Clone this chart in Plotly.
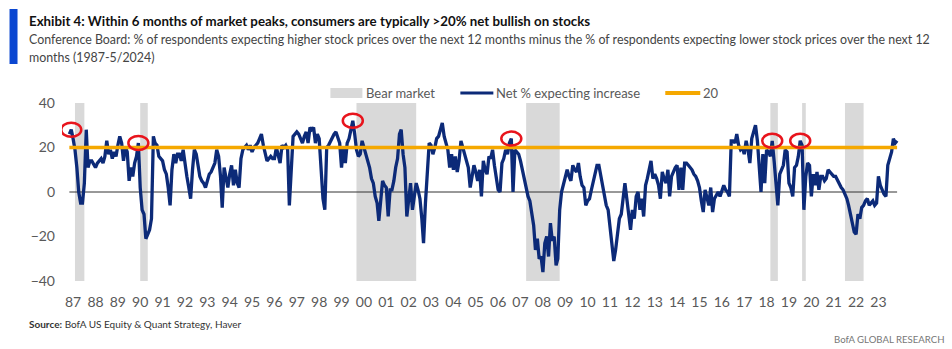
import pandas as pd
import plotly.graph_objects as go

# ---------------- data ----------------
# Net % expecting higher stock prices (monthly, May 1987 - May 2024)
net_pct = [
    26, 28, 24, 19, 11, 0, -5, -5,                        # 1987 (May-Dec)
    4, 28, 11, 14, 14, 12, 11, 13, 14, 15, 13, 16,        # 1988
    23, 17, 19, 15, 18, 16, 21, 25, 22, 14, 20, 18,       # 1989
    5, 11, 7, 13, 16, 22, 2, -8, -10, -21, -19, -17,      # 1990
    -12, 25, 22, 21, 16, 15, 14, 10, 8, 2, -6, 10,        # 1991
    17, 13, 17, 17, 14, 19, 12, 7, 2, -3, 10, 19,         # 1992
    17, 11, 7, 5, 4, 2, 5, 8, 9, 11, 13, 19,              # 1993
    16, 7, -7, 11, 6, 2, 8, 12, 3, 10, 4, 2,              # 1994
    15, 19, 20, 21, 19, 21, 18, 20, 21, 22, 24, 26,       # 1995
    21, 18, 14, 15, 16, 15, 15, 20, 17, 13, 21, 20,       # 1996
    21, 19, -6, 12, 25, 26, 27, 26, 24, 22, 25, 27,       # 1997
    22, 29, 28, 29, 22, 26, 24, 10, -3, -8, 20, 21,       # 1998
    23, 25, 26, 27, 24, 22, 11, 20, 13, 22, 24, 29,       # 1999
    32, 26, 19, 16, 17, 23, 20, 17, 15, 11, 6, 4,         # 2000
    -2, -5, -13, -3, 5, 3, 2, -11, 1, 1, 5, 11,           # 2001
    15, 26, 28, 17, 11, -11, -2, 4, -8, -2, 4, 1,         # 2002
    -3, -12, -23, -5, 9, 22, 21, 17, 20, 24, 25, 28,      # 2003
    31, 25, 22, 19, 11, 17, 10, 16, 9, 14, 23, 20,        # 2004
    17, 15, 11, 2, 8, 12, 9, 5, 10, -2, 14, 10,           # 2005
    8, 16, 15, 19, 12, 5, 1, 0, 13, 15, 19, 17,           # 2006
    22, 24, 0, 19, 18, 17, 14, 10, 6, 1, -2, -4,          # 2007
    -9, -15, -26, -21, -30, -29, -36, -23, -20, -29, -14, -22,  # 2008
    -20, -33, -30, -8, 0, 3, 7, 10, 7, 5, 12, 10,         # 2009
    9, 13, 7, 3, 2, -6, -4, -3, 1, 5, 8, 12,              # 2010
    12, 7, 3, -3, -6, -8, -15, -25, -31, -26, -20, -12,   # 2011
    -10, -2, 4, -3, -10, -17, -8, -12, -2, 0, -8, -3,     # 2012
    -11, 3, 6, 10, 14, 6, 8, 6, 3, -3, 9, 6,              # 2013
    4, 10, -2, 7, 9, 11, 12, 1, 11, 1, 13, 13,            # 2014
    12, 11, 10, 8, 7, 5, 2, -4, -9, 1, -3, -6,            # 2015
    2, -9, -3, -1, 0, -2, 0, 3, 1, 0, -2, 23,             # 2016
    23, 22, 26, 21, 19, 20, 17, 23, 19, 13, 24, 27,       # 2017
    30, 23, 11, 0, 17, 4, 19, 18, 16, 23, 14, 5,          # 2018
    -6, 8, 10, 12, 19, 18, 4, 2, -2, 11, 12, 16,          # 2019
    23, 21, -8, 7, 13, 12, -2, 8, 3, 9, 1, 7,             # 2020
    7, 5, 6, 10, 9, 8, 7, 7, 5, 4, 2, 1,                  # 2021
    -1, -3, -6, -10, -15, -18, -19, -10, -12, -7, -6, -4, # 2022
    -3, -6, -5, -4, -6, -5, 7, 3, 1, -1, -2, 12,          # 2023
    15, 18, 24, 22, 23,                                   # 2024 (Jan-May)
]
dates = pd.date_range("1987-05-01", periods=len(net_pct), freq="MS")
threshold = [20] * len(net_pct)

bear_markets = [
    ("1987-08-01", "1988-01-01"),
    ("1990-07-01", "1990-11-01"),
    ("2000-03-01", "2002-11-01"),
    ("2007-10-01", "2009-04-01"),
    ("2018-09-01", "2019-01-01"),
    ("2020-02-01", "2020-04-01"),
    ("2022-01-01", "2022-11-01"),
]
peak_dates = ["1987-06-01", "1990-06-01", "2000-01-01", "2007-02-01", "2018-10-01", "2020-01-01"]

tick_years = list(range(1987, 2024))
tick_vals = [f"{y}-07-01" for y in tick_years]
tick_text = [f"{y % 100:02d}" for y in tick_years]
y_ticks = [40, 20, 0, -20, -40]

# ---------------- styling ----------------
NAVY = "#0c2a78"
ORANGE = "#f5a800"
GREY = "#d9d9d9"
RED = "#e8141c"
TXT = "#595959"
FONT = "Lato, Open Sans, sans-serif"

L, T, W, H = 61.5, 103, 837.3, 178
def px(x):
    return (x - L) / W
def py(y):
    return (T + H - y) / H

fig = go.Figure()
fig.add_trace(go.Scatter(x=dates, y=net_pct, mode="lines",
                         line=dict(color=NAVY, width=3.3), showlegend=False,
                         name="Net % expecting increase"))
fig.add_trace(go.Scatter(x=dates, y=threshold, mode="lines",
                         line=dict(color=ORANGE, width=3.5), showlegend=False, name="20"))

series = dict(zip(dates.strftime("%Y-%m-%d"), net_pct))

shapes = []
for s, e in bear_markets:
    shapes.append(dict(type="rect", xref="x", yref="paper", x0=s, x1=e, y0=0, y1=1,
                       fillcolor=GREY, line=dict(width=0), layer="below"))
# zero line across the data span
shapes.append(dict(type="line", xref="x", yref="y", x0=dates[0], x1=dates[-1], y0=0, y1=0,
                   line=dict(color="#333333", width=1), layer="below"))
# red highlight ellipses
for d in peak_dates:
    shapes.append(dict(type="circle", xref="x", yref="y", xsizemode="pixel", ysizemode="pixel",
                       xanchor=d, yanchor=series[d], x0=-10, x1=10, y0=-7, y1=7,
                       line=dict(color=RED, width=2.5)))
# title bar
shapes.append(dict(type="rect", xref="paper", yref="paper", x0=px(9), x1=px(17), y0=py(64), y1=py(9),
                   fillcolor="#0b47d1", line=dict(width=0)))
# legend symbols
shapes.append(dict(type="rect", xref="paper", yref="paper", x0=px(330), x1=px(362), y0=py(98), y1=py(88),
                   fillcolor=GREY, line=dict(width=0)))
shapes.append(dict(type="line", xref="paper", yref="paper", x0=px(460), x1=px(493), y0=py(93), y1=py(93),
                   line=dict(color=NAVY, width=3)))
shapes.append(dict(type="line", xref="paper", yref="paper", x0=px(665), x1=px(700), y0=py(93), y1=py(93),
                   line=dict(color=ORANGE, width=4)))

def ann(text, x, y, size, color, xanchor="left"):
    return dict(text=text, x=px(x), y=py(y), xref="paper", yref="paper", showarrow=False,
                xanchor=xanchor, yanchor="middle", align="left",
                font=dict(size=size, color=color, family=FONT))

annotations = [
    ann("<b>Exhibit 4: Within 6 months of market peaks, consumers are typically &gt;20% net bullish on stocks</b>",
        26, 21, 13.3, "#111111"),
    ann("Conference Board: % of respondents expecting higher stock prices over the next 12 months minus the % of respondents expecting lower stock prices over the next 12",
        26, 40, 12.4, "#444444"),
    ann("months (1987-5/2024)", 26, 57, 12.4, "#444444"),
    ann("Bear market", 364, 93, 13, TXT),
    ann("Net % expecting increase", 494, 93, 13, TXT),
    ann("20", 701, 93, 13, TXT),
    ann("<b>Source:</b> BofA US Equity &amp; Quant Strategy, Haver", 26, 324, 10, "#333333"),
    ann("BofA GLOBAL RESEARCH", 946, 339, 9.6, "#777777", xanchor="right"),
]

fig.update_layout(
    width=952, height=349,
    margin=dict(l=L, r=952 - L - W, t=T, b=349 - T - H, pad=0),
    paper_bgcolor="white", plot_bgcolor="white",
    showlegend=False,
    shapes=shapes, annotations=annotations,
    xaxis=dict(type="date", range=["1987-01-01", "2024-06-01"],
               tickmode="array", tickvals=tick_vals, ticktext=tick_text,
               showgrid=False, zeroline=False, showline=False, ticks="",
               ticklabelstandoff=11,
               tickfont=dict(family=FONT, size=14, color=TXT)),
    yaxis=dict(range=[-40, 40], tickmode="array", tickvals=y_ticks,
               showgrid=False, zeroline=False, showline=False, ticks="",
               ticklabelstandoff=6,
               tickfont=dict(family=FONT, size=14, color=TXT)),
)

fig.write_html("out.html")
